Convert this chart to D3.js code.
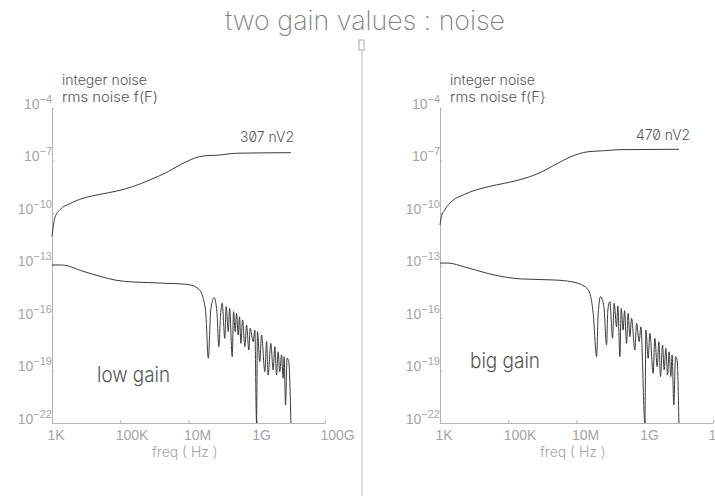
<!DOCTYPE html>
<meta charset="utf-8">
<style>
    body {
        margin: 0;
        background: #fff;
    }

    svg {
        font-family: Inter, "DejaVu Sans", sans-serif;
        font-feature-settings: "zero" 1;
        font-weight: 300;
    }

    .domain, .tick line {
        stroke: #b5b5b5;
        stroke-width: 1;
    }

    .axis text {
        fill: #a5a5a5;
        font-size: 14px;
    }

    .curve {
        fill: none;
        stroke: #3a3a3a;
        stroke-width: 1;
    }

    .note {
        fill: #555;
    }
</style>

<body>
    <svg id="chart" width="715" height="496"></svg>
</body>

<script src="https://cdn.jsdelivr.net/npm/d3@7"></script>
<script>
    // axis ticks
    var freqTicks = [1e3, 1e5, 1e7, 1e9, 1e11],
        freqLabels = ["1K", "100K", "10M", "1G", "100G"],
        levelTicks = [1e-22, 1e-19, 1e-16, 1e-13, 1e-10, 1e-7, 1e-4],
        levelExps = ["22", "19", "16", "13", "10", "7", "4"];

    // low gain : integrated noise
    var lowIntFreq = [1.0e3, 1.1e3, 1.23e3, 1.7e3, 3.4e3, 8.1e3, 2.6e4, 7.9e4, 2.3e5, 7.4e5, 2.3e6, 6.9e6, 2.1e7,
        3.5e7, 6.8e7, 2.6e8, 1.0e10];
    var lowIntVal = [4.5e-12, 2.0e-11, 5.9e-11, 1.5e-10, 3.5e-10, 6.9e-10, 1.17e-9, 1.8e-9, 3.2e-9, 7.8e-9, 2.1e-8,
        6.9e-8, 1.66e-7, 1.9e-7, 2.0e-7, 2.6e-7, 2.8e-7];

    // low gain : noise density
    var lowDenFreq = [1.0e3, 1.91e3, 8.13e3, 2.57e4, 7.94e4, 2.34e5, 7.41e5, 2.34e6, 6.92e6, 1.35e7, 1.78e7, 2.29e7,
        2.69e7, 3.24e7, 3.80e7, 4.53e7, 5.66e7, 6.79e7, 7.76e7, 8.71e7, 9.70e7, 1.16e8, 1.27e8, 1.46e8, 1.60e8,
        1.91e8, 2.09e8, 2.33e8, 2.56e8, 2.85e8, 3.13e8, 3.42e8, 3.84e8, 4.48e8, 5.02e8, 5.87e8, 6.41e8, 7.85e8,
        8.79e8, 9.86e8, 1.05e9, 1.23e9, 1.38e9, 1.73e9, 1.94e9, 2.16e9, 2.59e9, 3.02e9, 3.39e9, 3.80e9, 4.24e9,
        4.74e9, 5.32e9, 5.93e9, 6.34e9, 6.97e9, 7.76e9, 8.71e9, 1.0e10];
    var lowDenVal = [1.07e-13, 1.07e-13, 4.68e-14, 2.40e-14, 1.41e-14, 1.15e-14, 1.05e-14, 9.55e-15, 8.71e-15,
        7.08e-15, 5.25e-15, 3.16e-15, 1.35e-15, 1.48e-16, 5.01e-19, 3.55e-16, 1.45e-15, 2.29e-16, 2.29e-18,
        1.48e-16, 6.92e-16, 6.92e-18, 4.47e-16, 1.66e-17, 3.55e-16, 6.17e-19, 2.29e-16, 1.66e-17, 1.86e-16,
        1.07e-17, 1.17e-16, 3.55e-18, 7.76e-17, 2.29e-18, 3.98e-17, 1.48e-18, 2.57e-17, 4.47e-18, 2.04e-17,
        1e-22, 1.66e-17, 3.16e-19, 1.07e-17, 8.51e-20, 4.47e-18, 5.50e-20, 3.55e-18, 1.07e-19, 2.29e-18,
        5.50e-20, 1.17e-18, 8.51e-20, 7.76e-19, 3.55e-20, 6.17e-19, 1.07e-21, 5.01e-19, 3.16e-19, 1e-22];

    // big gain : integrated noise
    var bigIntFreq = [1.0e3, 1.1e3, 1.37e3, 1.92e3, 5.28e3, 2.55e4, 7.85e4, 2.35e5, 7.41e5, 2.29e6, 6.86e6, 2.16e7,
        6.65e7, 2.0e8, 1.0e10];
    var bigIntVal = [2.0e-11, 6.2e-11, 1.48e-10, 3.55e-10, 1.17e-9, 3.16e-9, 5.01e-9, 8.3e-9, 1.78e-8, 5.5e-8,
        1.66e-7, 3.16e-7, 3.63e-7, 4.17e-7, 4.37e-7];

    // big gain : noise density
    var bigDenFreq = [1.0e3, 1.70e3, 5.37e3, 2.57e4, 7.94e4, 2.45e5, 2.34e6, 7.24e6, 1.78e7, 2.45e7, 3.08e7, 3.88e7,
        4.33e7, 5.08e7, 6.34e7, 7.60e7, 8.30e7, 9.51e7, 1.14e8, 1.27e8, 1.49e8, 1.63e8, 1.87e8, 2.04e8, 2.33e8,
        2.56e8, 2.93e8, 3.27e8, 3.66e8, 4.11e8, 5.13e8, 5.75e8, 6.86e8, 7.69e8, 1.01e9, 1.08e9, 1.26e9, 1.41e9,
        1.76e9, 1.98e9, 2.31e9, 2.59e9, 2.90e9, 3.32e9, 3.70e9, 4.15e9, 4.66e9, 5.19e9, 5.81e9, 6.35e9, 7.11e9,
        7.98e9, 8.89e9, 1.0e10];
    var bigDenVal = [1.38e-13, 1.38e-13, 8.13e-14, 3.47e-14, 2.19e-14, 1.70e-14, 1.48e-14, 1.17e-14, 6.17e-15,
        2.57e-15, 1.86e-16, 6.17e-19, 1.86e-16, 1.66e-15, 4.47e-16, 2.88e-18, 2.88e-16, 8.51e-16, 6.92e-18,
        6.92e-16, 3.16e-17, 4.90e-16, 6.17e-19, 3.55e-16, 2.04e-17, 2.63e-16, 3.55e-18, 1.86e-16, 8.51e-18,
        9.55e-17, 1.48e-18, 5.01e-17, 4.47e-18, 3.16e-17, 1e-22, 2.04e-17, 5.01e-19, 1.35e-17, 6.92e-20,
        6.92e-18, 1.66e-19, 4.47e-18, 4.47e-20, 2.88e-18, 1.07e-19, 1.86e-18, 5.50e-20, 1.17e-18, 4.47e-20,
        7.76e-19, 1.07e-21, 6.17e-19, 3.98e-19, 1e-22];

    var svg = d3.select("#chart");

    // title + divider
    svg.append("text")
        .attr("x", 225).attr("y", 30)
        .attr("textLength", 280).attr("lengthAdjust", "spacingAndGlyphs")
        .style("font-size", "27px").style("font-weight", 200).style("fill", "#808080")
        .text("two gain values : noise");
    svg.append("rect").attr("x", 359).attr("y", 40).attr("width", 5).attr("height", 10)
        .attr("fill", "none").attr("stroke", "#aaa");
    svg.append("line").attr("x1", 362).attr("x2", 362).attr("y1", 50).attr("y2", 496)
        .attr("stroke", "#bbb");

    var panels = [{
        x0: 52, intF: lowIntFreq, intV: lowIntVal, denF: lowDenFreq, denV: lowDenVal,
        l2: "rms noise f(F)", total: "307 nV2", totalX: 240, totalY: 142,
        name: "low gain", nameX: 97, nameY: 382, nameW: 73
    }, {
        x0: 440, intF: bigIntFreq, intV: bigIntVal, denF: bigDenFreq, denV: bigDenVal,
        l2: "rms noise f(F}", total: "470 nV2", totalX: 636, totalY: 140,
        name: "big gain", nameX: 470, nameY: 368, nameW: 70
    }];

    panels.forEach(function (p) {
        var x = d3.scaleLog().domain([1e3, 1e11]).range([p.x0, p.x0 + 273]),
            y = d3.scaleLog().domain([1e-22, 1e-4]).range([423, 108]);

        var g = svg.append("g");

        // x axis
        var gx = g.append("g").attr("class", "axis").attr("transform", "translate(0,423)")
            .call(d3.axisBottom(x).tickValues(freqTicks).tickSize(-3).tickSizeOuter(0)
                .tickFormat(function (d, i) { return freqLabels[i]; }));
        gx.selectAll("text").attr("text-anchor", "start").attr("x", -5).attr("y", 17).attr("dy", 0);

        // y axis
        var gy = g.append("g").attr("class", "axis").attr("transform", "translate(" + p.x0 + ",0)")
            .call(d3.axisLeft(y).tickValues(levelTicks).tickSize(-2).tickSizeOuter(0).tickFormat(""));
        gy.selectAll(".tick text").remove();
        gy.selectAll(".tick").append("text")
            .attr("x", 0).attr("y", 0).attr("text-anchor", "end")
            .each(function (d, i) {
                var t = d3.select(this);
                t.append("tspan").text("10");
                t.append("tspan").attr("dy", -6).style("font-size", "11px").text("\u2212" + levelExps[i]);
            });

        g.append("text").attr("class", "axis").attr("x", p.x0 + 100).attr("y", 457)
            .style("fill", "#a5a5a5").style("font-size", "14px").text("freq ( Hz )");

        var line = d3.line()
            .x(function (d) { return x(d[0]); })
            .y(function (d) { return y(d[1]); })
            .curve(d3.curveMonotoneX);

        g.append("path").attr("class", "curve").attr("d", line(d3.zip(p.intF, p.intV)));
        g.append("path").attr("class", "curve").attr("d", line(d3.zip(p.denF, p.denV)));

        // notes
        g.append("text").attr("class", "note").attr("x", p.x0 + 10).attr("y", 85)
            .attr("textLength", 85).attr("lengthAdjust", "spacingAndGlyphs")
            .style("font-size", "14px").text("integer noise");
        g.append("text").attr("class", "note").attr("x", p.x0 + 10).attr("y", 102)
            .attr("textLength", 96).attr("lengthAdjust", "spacingAndGlyphs")
            .style("font-size", "14px").text(p.l2);
        g.append("text").attr("class", "note").attr("x", p.totalX).attr("y", p.totalY)
            .attr("textLength", 54).attr("lengthAdjust", "spacingAndGlyphs")
            .style("font-size", "14px").text(p.total);
        g.append("text").attr("class", "note").attr("x", p.nameX).attr("y", p.nameY)
            .attr("textLength", p.nameW).attr("lengthAdjust", "spacingAndGlyphs")
            .style("font-size", "21px").text(p.name);
    });
</script>
